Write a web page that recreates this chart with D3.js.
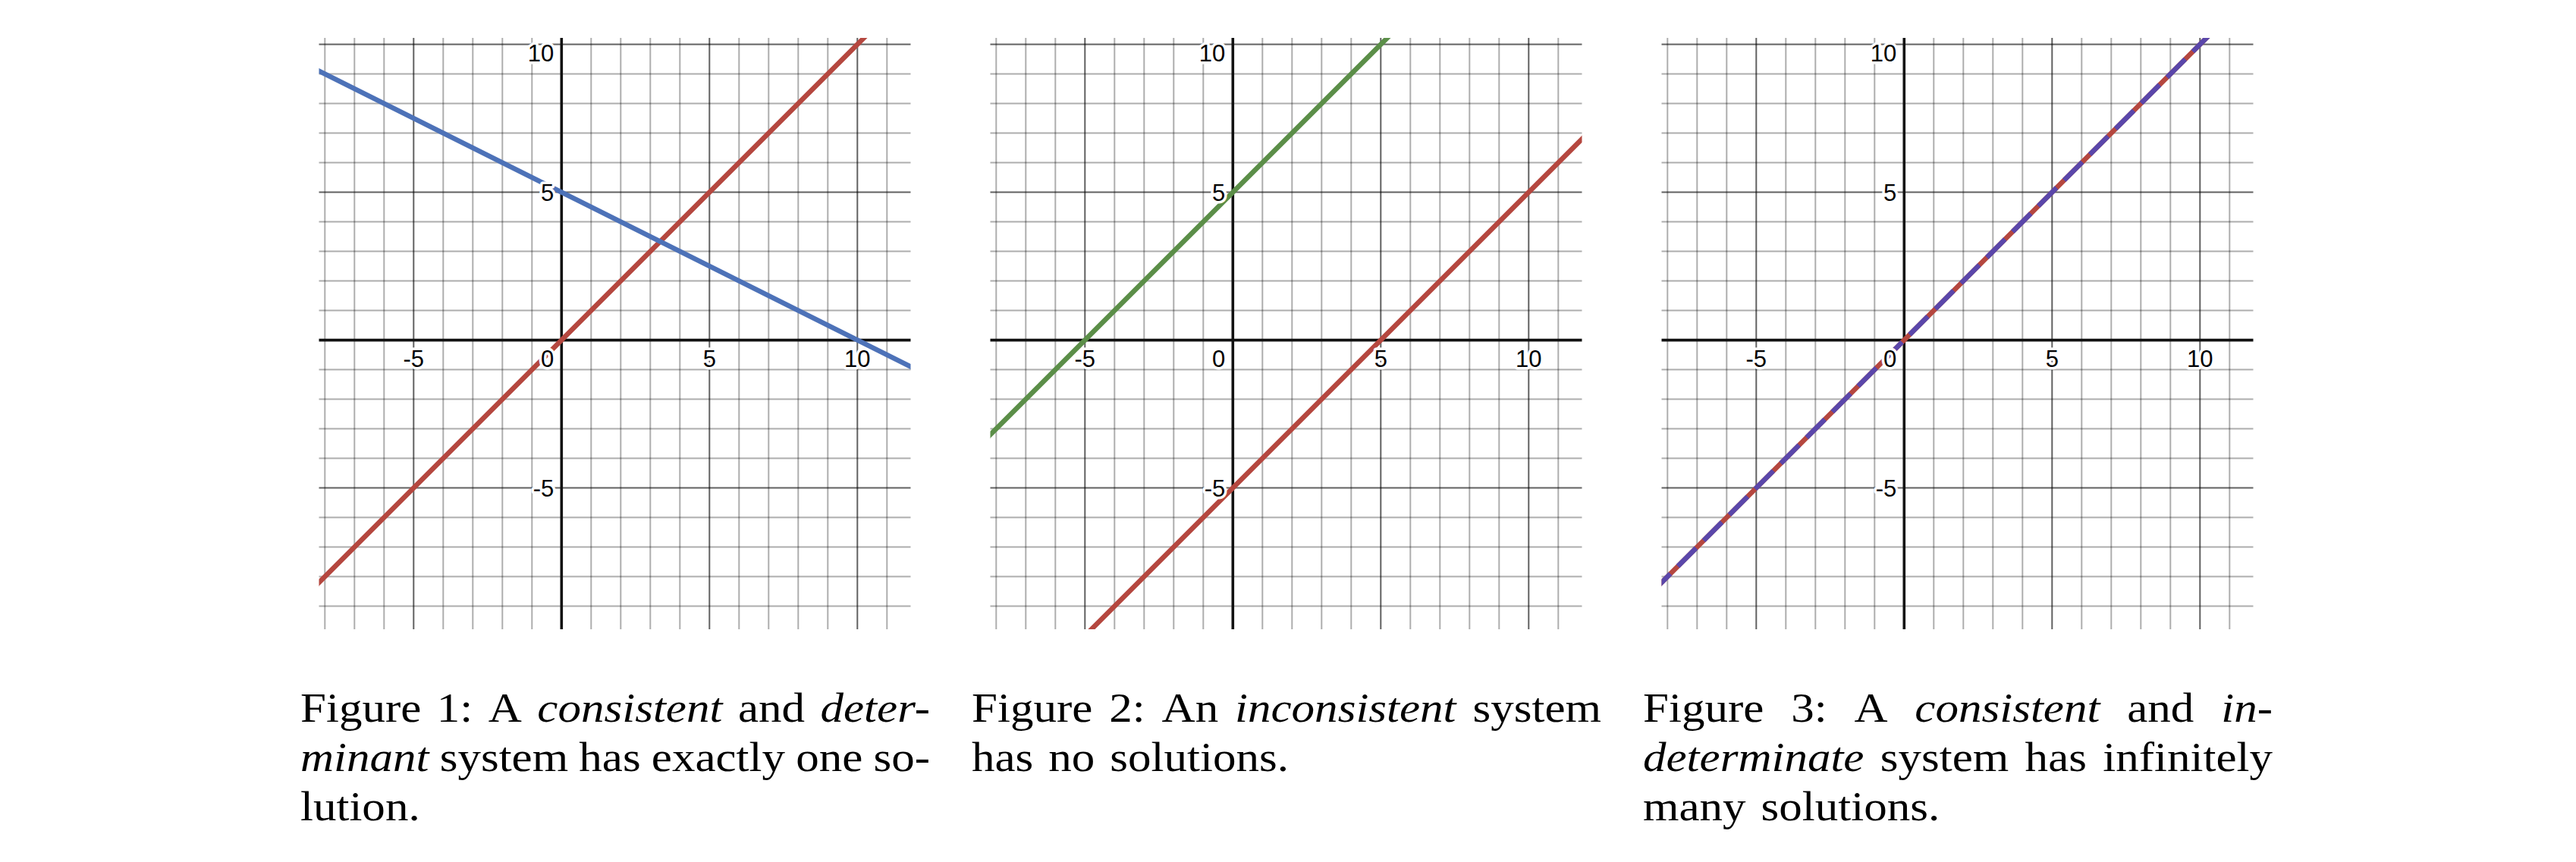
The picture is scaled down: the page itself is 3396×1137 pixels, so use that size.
<!DOCTYPE html>
<html><head><meta charset="utf-8">
<script src="https://cdn.jsdelivr.net/npm/d3@7"></script>
<style>body{margin:0;background:#fff;overflow:hidden}</style>
</head><body>
<svg id="c" width="3396" height="1137" xmlns="http://www.w3.org/2000/svg"></svg>
<script>
// ---- data ----
const xTicks = [-5, 0, 5, 10];
const yTicks = [-5, 5, 10];
const xView = [-8.2, 11.8];
const yView = [-9.78, 10.22];
const xGrid = d3.range(-8, 12);
const yGrid = d3.range(-9, 11);

const fig1Red = [[-12, -12], [14, 14]];
const fig1Blue = [[-12, 11], [14, -2]];
const fig2Green = [[-12, -7], [14, 19]];
const fig2Red = [[-12, -17], [14, 9]];
const fig3Red = [[-12, -12], [14, 14]];
const fig3Purple = [[-12, -12], [14, 14]];

const caption1 = [
  [["Figure",0],["1:",0],["A",0],["consistent",1],["and",0],["deter-",1]],
  [["minant",1],["system",0],["has",0],["exactly",0],["one",0],["so-",0]],
  [["lution.",0]]
];
const caption2 = [
  [["Figure",0],["2:",0],["An",0],["inconsistent",1],["system",0]],
  [["has",0],["no",0],["solutions.",0]]
];
const caption3 = [
  [["Figure",0],["3:",0],["A",0],["consistent",1],["and",0],["in-",1]],
  [["determinate",1],["system",0],["has",0],["infinitely",0]],
  [["many",0],["solutions.",0]]
];

const panels = [
  {series: [{pts: fig1Red, color: "#b5473f"}, {pts: fig1Blue, color: "#4d72b8"}], caption: caption1},
  {series: [{pts: fig2Green, color: "#5b8e48"}, {pts: fig2Red, color: "#b5473f"}], caption: caption2},
  {series: [{pts: fig3Red, color: "#b5473f"}, {pts: fig3Purple, color: "#5a47aa", dash: "34,14"}], caption: caption3}
];

// ---- layout ----
const svg = d3.select("#c");
const W = 780, H = 780, top0 = 50, step = 885, left0 = 420.5;
const capLeft0 = 396, capW = 830, capBase = [952, 1017, 1082];
const capStretch = 1.13;
const labelFont = "'Liberation Sans', Arial, sans-serif";
const capFont = "'Liberation Serif', 'Times New Roman', serif";

panels.forEach((p, i) => {
  const left = left0 + i * step;
  const x = d3.scaleLinear().domain(xView).range([0, W]);
  const y = d3.scaleLinear().domain(yView).range([H, 0]);
  const g = svg.append("g").attr("transform", `translate(${left},${top0})`);
  const cid = "clip" + i;
  g.append("clipPath").attr("id", cid).append("rect").attr("width", W).attr("height", H);

  // grid
  g.selectAll(".vx").data(xGrid.filter(v => v !== 0)).join("line")
    .attr("x1", d => x(d)).attr("x2", d => x(d)).attr("y1", 0).attr("y2", H)
    .attr("stroke", "#000").attr("stroke-width", 2)
    .attr("stroke-opacity", d => d % 5 === 0 ? 0.62 : 0.32);
  g.selectAll(".hy").data(yGrid.filter(v => v !== 0)).join("line")
    .attr("y1", d => y(d)).attr("y2", d => y(d)).attr("x1", 0).attr("x2", W)
    .attr("stroke", "#000").attr("stroke-width", 2)
    .attr("stroke-opacity", d => d % 5 === 0 ? 0.62 : 0.32);
  // axes
  g.append("line").attr("x1", x(0)).attr("x2", x(0)).attr("y1", 0).attr("y2", H)
    .attr("stroke", "#111").attr("stroke-width", 3.6);
  g.append("line").attr("y1", y(0)).attr("y2", y(0)).attr("x1", 0).attr("x2", W)
    .attr("stroke", "#111").attr("stroke-width", 3.6);

  // lines
  const line = d3.line().x(d => x(d[0])).y(d => y(d[1]));
  const lg = g.append("g").attr("clip-path", `url(#${cid})`);
  p.series.forEach(s => {
    lg.append("path").attr("d", line(s.pts)).attr("fill", "none")
      .attr("stroke", s.color).attr("stroke-width", 6.5)
      .attr("stroke-dasharray", s.dash || null);
  });

  // labels
  const lab = g.append("g").attr("font-family", labelFont).attr("font-size", 31)
    .attr("fill", "#000").attr("stroke", "#fff").attr("stroke-width", 7)
    .attr("stroke-linejoin", "round").attr("paint-order", "stroke");
  const xb = y(0) + 35;
  xTicks.forEach(v => {
    if (v === 0) {
      lab.append("text").attr("x", x(0) - 10).attr("y", xb).attr("text-anchor", "end").text("0");
    } else {
      lab.append("text").attr("x", x(v)).attr("y", xb).attr("text-anchor", "middle").text(String(v));
    }
  });
  yTicks.forEach(v => {
    const cy = Math.max(y(v), 19.5);
    lab.append("text").attr("x", x(0) - 10).attr("y", cy + 11).attr("text-anchor", "end").text(String(v));
  });

  // caption (justified)
  const cg = svg.append("g").attr("font-family", capFont).attr("font-size", 54).attr("fill", "#000");
  const capLeft = capLeft0 + i * step;
  p.caption.forEach((words, li) => {
    const nodes = words.map(w => cg.append("text").attr("y", capBase[li])
      .attr("font-style", w[1] ? "italic" : "normal").text(w[0]));
    const widths = nodes.map(n => n.node().getComputedTextLength() * capStretch);
    nodes.forEach((n, k) => n.attr("textLength", widths[k]).attr("lengthAdjust", "spacingAndGlyphs"));
    const tot = d3.sum(widths);
    const last = li === p.caption.length - 1;
    let gap = last ? 20 : (capW - tot) / Math.max(1, words.length - 1);
    let cx = capLeft;
    nodes.forEach((n, k) => { n.attr("x", cx); cx += widths[k] + gap; });
  });
});
</script>
</body></html>
